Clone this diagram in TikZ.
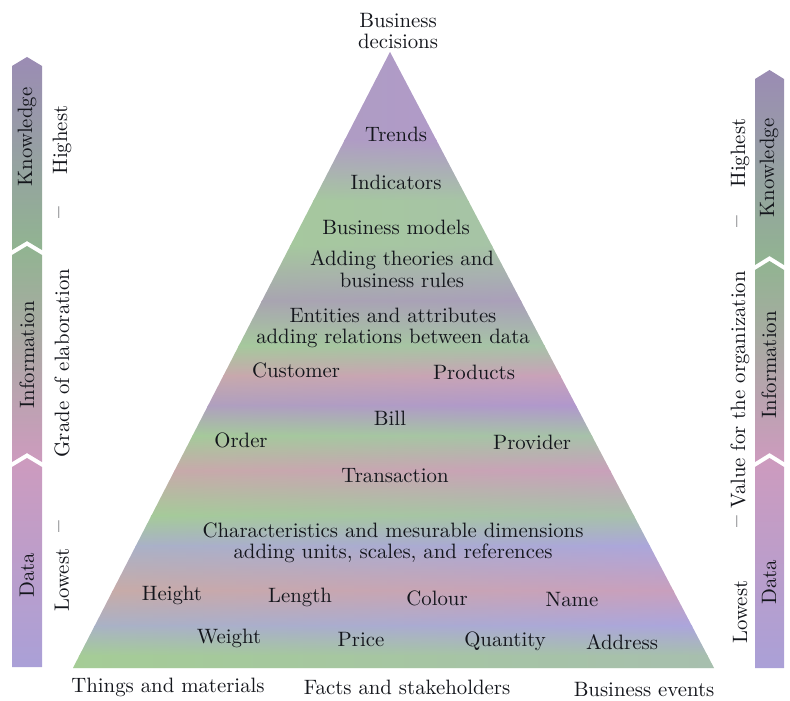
\documentclass[tikz,border=0pt]{standalone}
\usetikzlibrary{calc}
\definecolor{tpur}{RGB}{180,140,205}
\definecolor{tgrn}{RGB}{165,205,150}
\definecolor{tpnk}{RGB}{218,155,175}
\definecolor{tlav}{RGB}{172,165,222}
\definecolor{tmau}{RGB}{170,150,180}
\definecolor{txt}{RGB}{20,22,28}
\definecolor{apur}{RGB}{155,140,180}
\definecolor{agrn}{RGB}{145,180,145}
\definecolor{apnk}{RGB}{205,155,190}
\definecolor{alav}{RGB}{170,160,215}
\begin{document}
\begin{tikzpicture}[x=0.5pt,y=-0.5pt,
  lbl/.style={font=\fontsize{10.4}{10.8}\selectfont, align=center, text=txt, inner sep=1pt},
  side/.style={lbl, rotate=90},
  sidedash/.style={lbl, rotate=90, font=\fontsize{12}{12}\selectfont}]
\useasboundingbox (0,0) rectangle (790,700);
% triangle
\coordinate (apex) at (390,52);
\coordinate (bl) at (73,668);
\coordinate (br) at (714,668);
\begin{scope}
\clip (apex) -- (bl) -- (br) -- cycle;
\foreach \ya/\yb/\ca/\cb in {50/140/tpur/tpur,140/200/tpur/tgrn,200/245/tgrn/tgrn,245/300/tgrn/tmau,300/345/tmau/tgrn,345/375/tgrn/tpnk,375/405/tpnk/tpur,405/435/tpur/tgrn,435/470/tgrn/tpnk,470/515/tpnk/tgrn,515/545/tgrn/tlav,545/590/tlav/tpnk,590/625/tpnk/tlav,625/655/tlav/tgrn,655/670/tgrn/tgrn}
  \shade[top color=\ca, bottom color=\cb] (60,\ya) rectangle (730,\yb+1);
\shade[left color=tgrn, middle color=tpnk, right color=tlav, opacity=0.35] (60,50) rectangle (730,670);
\end{scope}
% left arrows
\shade[top color=apur, bottom color=agrn] (12,66) -- (27,57) -- (42,66) -- (42,250) -- (27,241) -- (12,250) -- cycle;
\shade[top color=agrn, bottom color=apnk] (12,255) -- (27,246) -- (42,255) -- (42,462) -- (27,453) -- (12,462) -- cycle;
\shade[top color=apnk, bottom color=alav] (12,467) -- (27,458) -- (42,467) -- (42,667) -- (12,667) -- cycle;
% right arrows
\shade[top color=apur, bottom color=agrn] (755,79) -- (769.5,70) -- (784,79) -- (784,265) -- (769.5,256) -- (755,265) -- cycle;
\shade[top color=agrn, bottom color=apnk] (755,270) -- (769.5,261) -- (784,270) -- (784,462) -- (769.5,453) -- (755,462) -- cycle;
\shade[top color=apnk, bottom color=alav] (755,467) -- (769.5,458) -- (784,467) -- (784,668) -- (755,668) -- cycle;
% arrow labels
\node[side] (lk) at (27,137) {Knowledge};
\node[side] (li) at (27,355) {Information};
\node[side] (ld) at (27,575) {Data};
\node[side] (rk) at (769,168) {Knowledge};
\node[side] (ri) at (769,365) {Information};
\node[side] (rd) at (769,582) {Data};
% side texts
\node[side] (lhigh) at (62,140) {Highest};
\node[sidedash] (ldash1) at (62,213) {--};
\node[side] (lgrade) at (62,363) {Grade of elaboration};
\node[sidedash] (ldash2) at (62,527) {--};
\node[side] (llow) at (62,580) {Lowest};
\node[side] (rhigh) at (740,153) {Highest};
\node[sidedash] (rdash1) at (740,222) {--};
\node[side] (rvalue) at (740,390) {Value for the organization};
\node[sidedash] (rdash2) at (740,522) {--};
\node[side] (rlow) at (740,612) {Lowest};
% pyramid texts
\node[lbl] (decisions) at (398,31) {Business\\decisions};
\node[lbl] (trends) at (396,134) {Trends};
\node[lbl] (indic) at (396,182) {Indicators};
\node[lbl] (models) at (396,227) {Business models};
\node[lbl] (theories) at (402,269) {Adding theories and\\business rules};
\node[lbl] (entities) at (393,328) {Entities and attributes\\adding relations between data};
\node[lbl] (customer) at (296,370) {Customer};
\node[lbl] (products) at (474,372) {Products};
\node[lbl] (bill) at (390,418) {Bill};
\node[lbl] (order) at (241,440) {Order};
\node[lbl] (provider) at (532,442) {Provider};
\node[lbl] (trans) at (395,476) {Transaction};
\node[lbl] (charac) at (393,543) {Characteristics and mesurable dimensions\\adding units, scales, and references};
\node[lbl] (height) at (172,595) {Height};
\node[lbl] (length) at (300,597) {Length};
\node[lbl] (colour) at (437,598) {Colour};
\node[lbl] (name) at (572,600) {Name};
\node[lbl] (weight) at (229,638) {Weight};
\node[lbl] (price) at (361,639) {Price};
\node[lbl] (quantity) at (505,641) {Quantity};
\node[lbl] (address) at (622,642) {Address};
\node[lbl] (things) at (168,687) {Things and materials};
\node[lbl] (facts) at (407,687) {Facts and stakeholders};
\node[lbl] (events) at (644,689) {Business events};
\end{tikzpicture}
\end{document}
